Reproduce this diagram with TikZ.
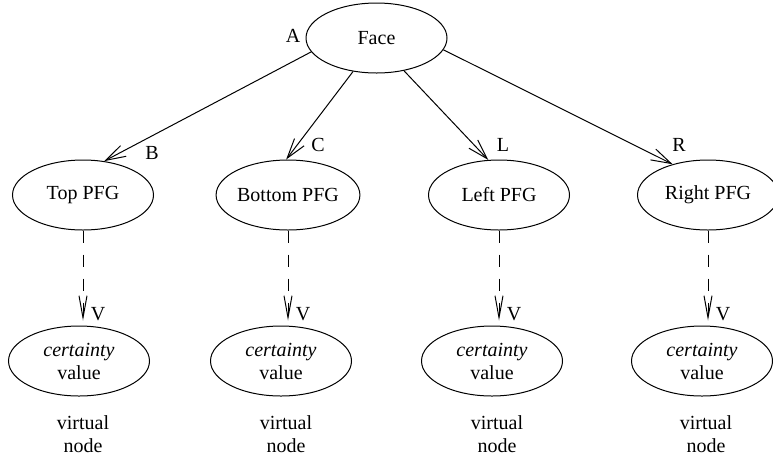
\documentclass[tikz,border=0pt]{standalone}
\usepackage{fontspec}
\setmainfont{Liberation Serif}
\usetikzlibrary{shapes.geometric,arrows.meta}
\begin{document}
\begin{tikzpicture}[x=1pt,y=-1pt,
  every node/.style={font=\fontsize{20}{23}\selectfont},
  ell/.style={ellipse,draw,line width=1pt,minimum width=141pt,minimum height=70pt,inner sep=0pt},
  lbl/.style={inner sep=0pt},
  solidarrow/.style={line width=1pt,-{Straight Barb[length=20pt,width=12pt,line width=1pt]}},
  dasharrow/.style={line width=1pt,dash pattern=on 12pt off 12pt,shorten >=5pt,-{Straight Barb[length=22pt,width=8pt,line width=1pt]}}]
\useasboundingbox (0,0) rectangle (773,459);

\node[ell] (face) at (376.5,38) {Face};
\node[ell] (p1) at (83,195) {Top PFG};
\node[ell] (p2) at (288,195) {Bottom PFG};
\node[ell] (p3) at (499,195) {Left PFG};
\node[ell] (p4) at (708,195) {Right PFG};

\node[ell,align=center] (c1) at (79,361) {\textit{certainty}\\value};
\node[ell,align=center] (c2) at (281,361) {\textit{certainty}\\value};
\node[ell,align=center] (c3) at (492,361) {\textit{certainty}\\value};
\node[ell,align=center] (c4) at (702,361) {\textit{certainty}\\value};

\node[align=center] (v1) at (83,434.5) {virtual\\node};
\node[align=center] (v2) at (286,434.5) {virtual\\node};
\node[align=center] (v3) at (497,434.5) {virtual\\node};
\node[align=center] (v4) at (706,434.5) {virtual\\node};

\draw[solidarrow] (face.192) -- (p1.58);
\draw[solidarrow] (face.235) -- (p2.93);
\draw[solidarrow] (face.310) -- (p3.107);
\draw[solidarrow] (face.350) -- (p4.139);

\node[lbl] (la) at (293,36) {A};
\node[lbl] (lb) at (152,153) {B};
\node[lbl] (lc) at (318,145) {C};
\node[lbl] (ll) at (503,145) {L};
\node[lbl] (lr) at (679,145) {R};

\draw[dasharrow] (p1.south) -- (p1.south |- c1.north);
\draw[dasharrow] (p2.south) -- (p2.south |- c2.north);
\draw[dasharrow] (p3.south) -- (p3.south |- c3.north);
\draw[dasharrow] (p4.south) -- (p4.south |- c4.north);

\node[lbl] (vl1) at (98,314) {V};
\node[lbl] (vl2) at (303,314) {V};
\node[lbl] (vl3) at (514,314) {V};
\node[lbl] (vl4) at (723,314) {V};
\end{tikzpicture}
\end{document}
